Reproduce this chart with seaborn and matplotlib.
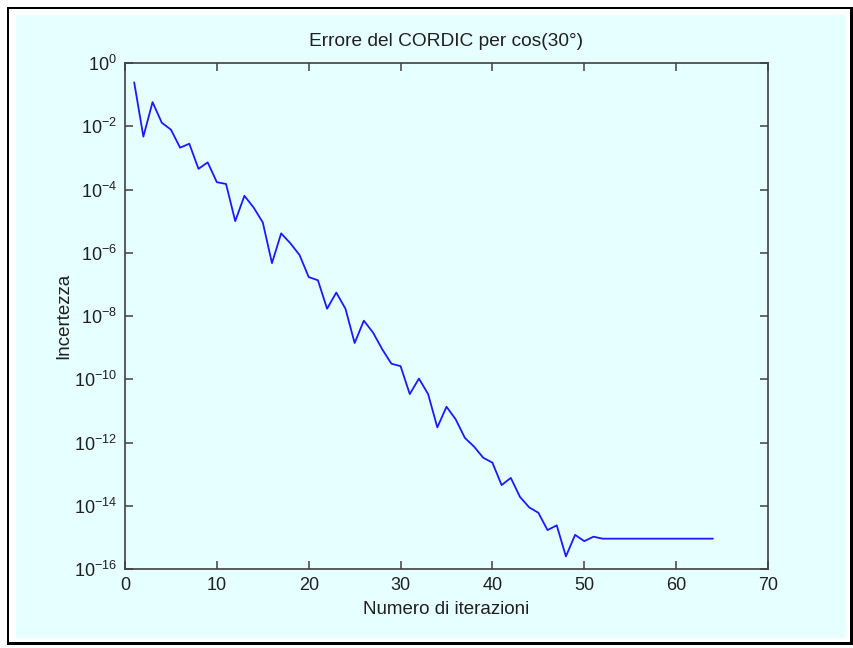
import matplotlib
matplotlib.use("Agg")
import matplotlib.pyplot as plt
from matplotlib.patches import Rectangle
from matplotlib.ticker import LogLocator, NullLocator, MultipleLocator
import numpy as np
import pandas as pd
import seaborn as sns

# CORDIC error for cos(30 deg) at each iteration
iterations = list(range(1, 65))
errors = [
    2.45e-1, 4.7e-3, 5.8e-2, 1.3e-2, 7.8e-3, 2.1e-3, 2.8e-3, 4.5e-4,
    7.2e-4, 1.7e-4, 1.5e-4, 1.0e-5, 6.3e-5, 2.7e-5, 9.1e-6, 4.7e-7,
    4.1e-6, 2.0e-6, 8.5e-7, 1.7e-7, 1.35e-7, 1.7e-8, 5.5e-8, 1.7e-8,
    1.4e-9, 7.1e-9, 3.0e-9, 8.9e-10, 3.1e-10, 2.6e-10, 3.4e-11, 1.05e-10,
    3.4e-11, 3.0e-12, 1.35e-11, 5.4e-12, 1.4e-12, 7.4e-13, 3.3e-13, 2.3e-13,
    4.5e-14, 7.6e-14, 1.9e-14, 8.9e-15, 6.0e-15, 1.7e-15, 2.4e-15, 2.5e-16,
    1.2e-15, 7.6e-16, 1.05e-15, 9.1e-16, 9.1e-16, 9.1e-16, 9.1e-16, 9.1e-16,
    9.1e-16, 9.1e-16, 9.1e-16, 9.1e-16, 9.1e-16, 9.1e-16, 9.1e-16, 9.1e-16,
]

title_text = "Errore del CORDIC per cos(30°)"
xlabel_text = "Numero di iterazioni"
ylabel_text = "Incertezza"

df = pd.DataFrame({"iter": iterations, "err": errors})

sns.set_style("ticks")
plt.rcParams["font.family"] = ["Liberation Sans", "DejaVu Sans"]
plt.rcParams["mathtext.fontset"] = "custom"
plt.rcParams["mathtext.rm"] = "Liberation Sans"
plt.rcParams["mathtext.it"] = "Liberation Sans"
plt.rcParams["mathtext.bf"] = "Liberation Sans"

W, H = 854, 648
bg = "#e6ffff"
fig = plt.figure(figsize=(W / 100, H / 100), dpi=100, facecolor="white")


def px_rect(x0, y0, x1, y1, color):
    fig.patches.append(Rectangle((x0 / W, 1 - y1 / H), (x1 - x0) / W, (y1 - y0) / H,
                                 transform=fig.transFigure, facecolor=color,
                                 edgecolor="none", zorder=-10))


# window frame with a heavier bottom/right edge, then the coloured panel
px_rect(7, 7, 853, 645, "black")
px_rect(9, 9, 850, 642, "white")
px_rect(16, 15, 846, 638, bg)

ax = fig.add_axes([125 / W, 1 - 569 / H, (768 - 125) / W, (569 - 63) / H])
ax.set_facecolor(bg)

sns.lineplot(data=df, x="iter", y="err", ax=ax, color="#1a1aff", linewidth=1.3)

ax.set_yscale("log")
ax.set_xlim(0, 70)
ax.set_ylim(1e-16, 1e0)
ax.xaxis.set_major_locator(MultipleLocator(10))
ax.yaxis.set_major_locator(LogLocator(base=100.0, numticks=20))
ax.yaxis.set_minor_locator(NullLocator())

txt_color = "#202020"
spine_color = "#404040"
for s in ax.spines.values():
    s.set_visible(True)
    s.set_color(spine_color)
    s.set_linewidth(1.2)

ax.tick_params(axis="both", which="major", direction="in", length=6, width=1.1,
               color=spine_color, labelcolor=txt_color, labelsize=13,
               top=True, right=True, pad=6)

ax.set_title(title_text, fontsize=13.8, color=txt_color, pad=12)
ax.set_xlabel(xlabel_text, fontsize=13.5, color=txt_color, labelpad=5)
ax.set_ylabel(ylabel_text, fontsize=13.5, color=txt_color, labelpad=1)

fig.savefig("out.png", dpi=100, facecolor="white")
